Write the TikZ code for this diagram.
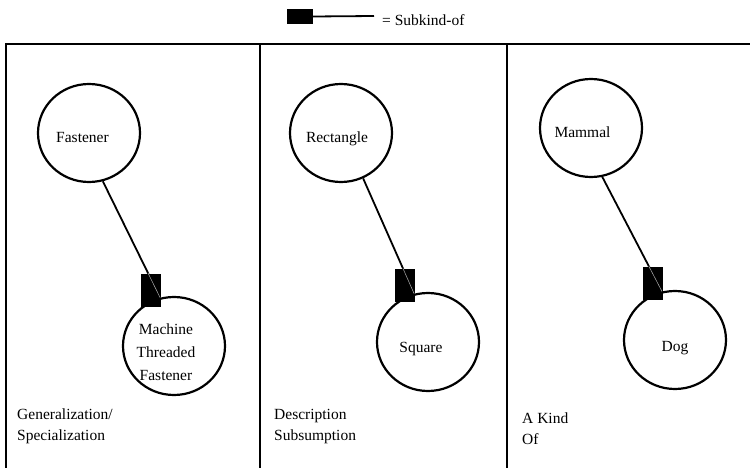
\documentclass[tikz,border=0pt]{standalone}
\usepackage{fontspec}
\setmainfont{Liberation Serif}
\usetikzlibrary{shapes.geometric}
\begin{document}
\begin{tikzpicture}[x=1pt,y=-1pt,
  concept/.style={draw, ellipse, line width=2.2pt, minimum width=102pt, minimum height=98pt, inner sep=0pt},
  lbl/.style={font=\fontsize{15.5}{21}\selectfont, inner sep=0pt, anchor=base},
  caption/.style={font=\fontsize{15.5}{21}\selectfont, inner sep=0pt, anchor=base west, align=left},
  subtip/.style={fill=black, inner sep=0pt, minimum width=20pt, minimum height=33pt},
  link/.style={line width=1.8pt},
  seam/.style={draw=gray!60, line width=0.5pt},
  frame/.style={line width=2.2pt}]
\clip (0,0) rectangle (750,468);

% legend
\node[subtip, minimum width=26pt, minimum height=15pt] (legtip) at (300,16.5) {};
\coordinate (legend) at (374,16);
\draw[link] (legtip.east) -- (legend);
\node[lbl, anchor=base west] (legtext) at (382,26) {= Subkind-of};

% panel frame
\draw[frame, line width=2.6pt] (5,44) -- (760,44);
\draw[frame] (6,480) -- (6,44);
\draw[frame] (260,44) -- (260,480);
\draw[frame] (507,44) -- (507,480);

% panel 1
\node[concept] (fastener) at (89,133) {};
\node[concept] (machine) at (174,346) {};
\node[lbl] (tfastener) at (82.5,143) {Fastener};
\node[lbl, align=center, font=\fontsize{15.5}{23}\selectfont] (tmachine) at (166,380) {Machine\\Threaded\\Fastener};
\node[subtip] (tip1) at (150.5,290) {};
\draw[link] (fastener.-74) -- (machine.106);
\begin{scope}
  \clip (tip1.south west) rectangle (tip1.north east);
  \draw[seam] (fastener.-74) -- (machine.106);
\end{scope}
\node[caption] (cap1) at (17,440) {Generalization/\\Specialization};

% panel 2
\node[concept] (rect) at (341,133) {};
\node[concept] (square) at (428,342) {};
\node[lbl] (trect) at (337,143) {Rectangle};
\node[lbl] (tsquare) at (421,352) {Square};
\node[subtip] (tip2) at (405,285.5) {};
\draw[link] (rect.-64) -- (square.106);
\begin{scope}
  \clip (tip2.south west) rectangle (tip2.north east);
  \draw[seam] (rect.-64) -- (square.106);
\end{scope}
\node[caption] (cap2) at (274,440) {Description\\Subsumption};

% panel 3
\node[concept] (mammal) at (591,128) {};
\node[concept] (dog) at (675,340) {};
\node[lbl] (tmammal) at (582.5,138) {Mammal};
\node[lbl] (tdog) at (675,351) {Dog};
\node[subtip] (tip3) at (652.5,283.5) {};
\draw[link] (mammal.-77) -- (dog.105);
\begin{scope}
  \clip (tip3.south west) rectangle (tip3.north east);
  \draw[seam] (mammal.-77) -- (dog.105);
\end{scope}
\node[caption] (cap3) at (522,444) {A Kind\\Of};
\end{tikzpicture}
\end{document}
